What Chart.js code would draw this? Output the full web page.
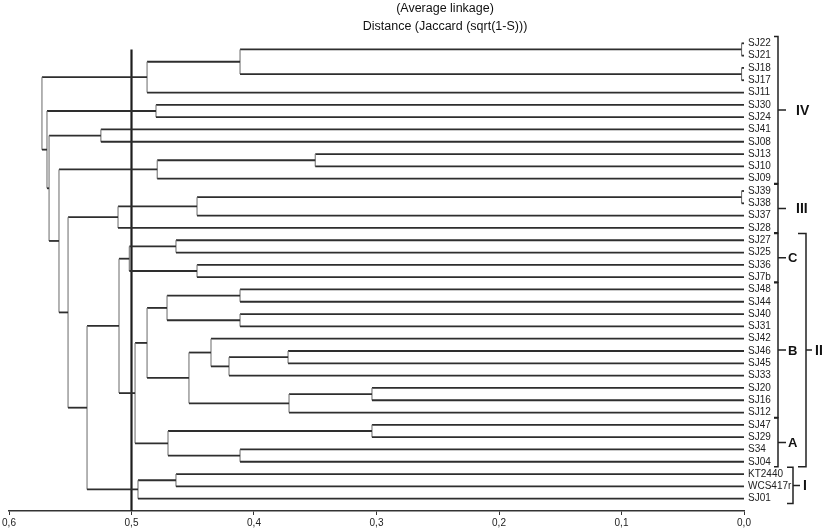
<!DOCTYPE html>
<html>
<head>
<meta charset="utf-8">
<script src="https://cdn.jsdelivr.net/npm/chart.js@4.4.0/dist/chart.umd.min.js"></script>
<style>
  html, body { margin: 0; padding: 0; background: #fff; }
  #wrap { width: 825px; height: 531px; position: relative; }
</style>
</head>
<body>
<div id="wrap"><canvas id="dendro"></canvas></div>
<script>
// leaves, top to bottom
const leafLabels = ['SJ22', 'SJ21', 'SJ18', 'SJ17', 'SJ11', 'SJ30', 'SJ24', 'SJ41', 'SJ08', 'SJ13',
    'SJ10', 'SJ09', 'SJ39', 'SJ38', 'SJ37', 'SJ28', 'SJ27', 'SJ25', 'SJ36', 'SJ7b',
    'SJ48', 'SJ44', 'SJ40', 'SJ31', 'SJ42', 'SJ46', 'SJ45', 'SJ33', 'SJ20', 'SJ16',
    'SJ12', 'SJ47', 'SJ29', 'S34', 'SJ04', 'KT2440', 'WCS417r', 'SJ01'];

// merge table (like a linkage matrix): ids < 38 are leaves, merge k gets id 38 + k
const mergeLeft = [0, 2, 38, 40, 5, 7, 9, 44, 12, 46, 47, 16, 18, 49, 20, 22, 52, 25, 55,
    24, 28, 58, 57, 54, 31, 33, 62, 61, 51, 35, 67, 66, 48, 45, 43, 42, 41];
const mergeRight = [1, 3, 39, 4, 6, 8, 10, 11, 13, 14, 15, 17, 19, 50, 21, 23, 53, 26, 27,
    56, 29, 30, 59, 60, 32, 34, 63, 64, 65, 36, 37, 68, 69, 70, 71, 72, 73];
const mergeHeight = [0.002, 0.002, 0.4114, 0.4873, 0.480, 0.525, 0.350, 0.479, 0.002, 0.4465,
    0.511, 0.4637, 0.4465, 0.5018, 0.4114, 0.4114, 0.471, 0.3722, 0.4204, 0.4351,
    0.3037, 0.3714, 0.4531, 0.4873, 0.3037, 0.4114, 0.4702, 0.4971, 0.5102, 0.4637,
    0.4947, 0.5363, 0.5518, 0.5592, 0.5673, 0.569, 0.5731];

const distanceTicks = [0, 0.1, 0.2, 0.3, 0.4, 0.5, 0.6];
const cutLevel = 0.5;

// groups marked on the right
const groupNames = ['IV', 'III', 'C', 'B', 'A'];
const groupFirst = [0, 12, 16, 20, 31];
const groupLast = [11, 15, 19, 30, 34];
const superNames = ['II', 'I'];
const superFirst = [16, 35];
const superLast = [34, 37];

// build the U shaped links
const nodeY = leafLabels.map((_, i) => i);
const nodeH = leafLabels.map(() => 0);
const treePoints = [];
mergeHeight.forEach((h, k) => {
    const a = mergeLeft[k], b = mergeRight[k];
    treePoints.push(
        { x: nodeH[a], y: nodeY[a] }, { x: h, y: nodeY[a] },
        { x: h, y: nodeY[b] }, { x: nodeH[b], y: nodeY[b] },
        { x: null, y: null });
    nodeY.push((nodeY[a] + nodeY[b]) / 2);
    nodeH.push(h);
});

const FONT = '"Liberation Sans", Arial, sans-serif';

function bracket(c, yScale, x, first, last, hook, tick, name, gap, font) {
    const top = yScale.getPixelForValue(first - 0.55);
    const bot = yScale.getPixelForValue(last + 0.4);
    const mid = (top + bot) / 2;
    c.beginPath();
    c.moveTo(x - hook, top);
    c.lineTo(x, top);
    c.lineTo(x, bot);
    c.lineTo(x - hook, bot);
    c.moveTo(x, mid);
    c.lineTo(x + tick, mid);
    c.stroke();
    c.font = font;
    c.fillText(name, x + tick + gap, mid + 1);
}

const annotations = {
    id: 'annotations',
    afterDraw(chart) {
        const c = chart.ctx, yScale = chart.scales.y;
        c.save();
        c.fillStyle = '#111';
        c.textAlign = 'center';
        c.textBaseline = 'middle';
        c.font = '12.5px ' + FONT;
        c.fillText('(Average linkage)', 445, 9);
        c.fillText('Distance (Jaccard (sqrt(1-S)))', 445, 27);

        c.strokeStyle = '#222';
        c.lineWidth = 1.5;
        c.textAlign = 'left';
        groupNames.forEach((n, i) => {
            const roman = /^[IV]+$/.test(n);
            bracket(c, yScale, 778, groupFirst[i], groupLast[i], 4, 8, n, roman ? 10 : 2,
                'bold ' + (roman ? 14 : 13) + 'px ' + FONT);
        });
        bracket(c, yScale, 806, superFirst[0], superLast[0], 8, 6, superNames[0], 3, 'bold 14px ' + FONT);
        bracket(c, yScale, 793, superFirst[1], superLast[1], 6, 7, superNames[1], 3, 'bold 14px ' + FONT);
        c.restore();
    }
};

new Chart(document.getElementById('dendro'), {
    type: 'scatter',
    data: {
        datasets: [{
            data: treePoints,
            showLine: true,
            spanGaps: false,
            pointRadius: 0,
            borderColor: '#333',
            borderWidth: 1.8,
            segment: {
                // vertical links are drawn thinner and lighter
                borderColor: ctx => ctx.p0.parsed.y === ctx.p1.parsed.y ? '#2e2e2e' : '#777',
                borderWidth: ctx => ctx.p0.parsed.y === ctx.p1.parsed.y ? 1.8 : 1.1
            }
        }, {
            data: [{ x: cutLevel, y: 0.5 }, { x: cutLevel, y: 38 }],
            showLine: true,
            pointRadius: 0,
            borderColor: '#1e1e1e',
            borderWidth: 2.2
        }]
    },
    options: {
        responsive: true,
        maintainAspectRatio: false,
        animation: false,
        layout: { padding: { left: 9, top: 31, right: 0, bottom: 0 } },
        plugins: { legend: { display: false }, tooltip: { enabled: false } },
        scales: {
            x: {
                type: 'linear',
                position: 'bottom',
                reverse: true,
                min: 0,
                max: 0.6,
                afterBuildTicks: s => { s.ticks = distanceTicks.map(v => ({ value: v })); },
                afterFit: s => { s.height = 20; },
                ticks: {
                    color: '#222',
                    padding: 2,
                    font: { family: FONT, size: 10 },
                    callback: v => v.toFixed(1).replace('.', ',')
                },
                grid: { drawOnChartArea: false, drawTicks: true, tickLength: 4, color: '#333' },
                border: { display: true, color: '#333', width: 1.5 }
            },
            y: {
                type: 'linear',
                position: 'right',
                reverse: true,
                min: -1,
                max: 38,
                afterBuildTicks: s => { s.ticks = leafLabels.map((_, i) => ({ value: i })); },
                afterFit: s => { s.width = 81; },
                ticks: {
                    autoSkip: false,
                    color: '#222',
                    padding: 4,
                    crossAlign: 'near',
                    font: { family: FONT, size: 10 },
                    callback: v => leafLabels[v]
                },
                grid: { display: false, drawTicks: false },
                border: { display: false }
            }
        }
    },
    plugins: [annotations]
});
</script>
</body>
</html>
